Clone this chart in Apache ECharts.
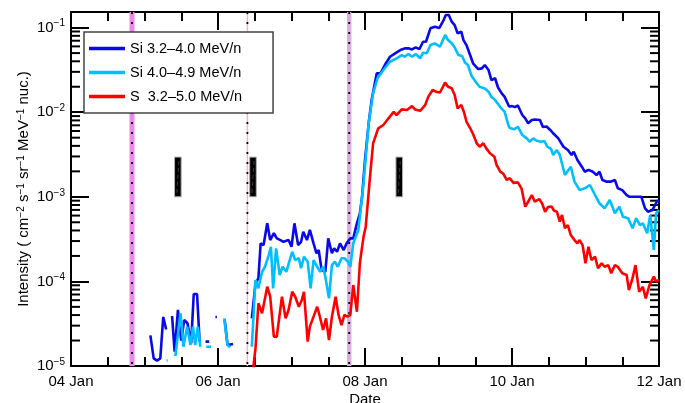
<!DOCTYPE html>
<html><head><meta charset="utf-8">
<script src="https://cdn.jsdelivr.net/npm/echarts@6/dist/echarts.min.js"></script>
<style>html,body{margin:0;padding:0;background:#fff}#c{width:685px;height:403px}</style>
</head><body><div id="c"></div>
<script>
// ---- data (time = day of January 2014) ----
const seriesNames = ['Si 3.2\u20134.0 MeV/n', 'Si 4.0\u20134.9 MeV/n', 'S  3.2\u20135.0 MeV/n'];
const xTickLabels = {4: '04 Jan', 6: '06 Jan', 8: '08 Jan', 10: '10 Jan', 12: '12 Jan'};

const siLowTime = [5.08,5.125,5.17,5.215,5.255,5.295,5.33,5.375,5.41,5.455,5.50,5.54,5.585,5.635,5.67,5.715,5.75,5.79,5.83,5.88,5.93,5.965,5.985,6.04,6.09,6.13,6.205,6.3,
6.46,6.51,6.55,6.58,6.62,6.67,6.71,6.76,6.80,6.85,6.89,6.96,7.00,7.04,7.09,7.13,7.16,7.21,7.25,7.30,7.34,7.37,7.41,7.46,7.50,7.55,7.58,7.62,7.66,7.71,7.75,7.80,7.84,7.89,7.93,7.96,8.00,8.05,8.09,8.16,8.21,8.27,8.34,8.41,8.48,8.55,8.59,8.64,8.69,8.74,8.79,8.83,8.89,8.95,9.01,9.07,9.10,9.14,9.18,9.22,9.26,9.31,9.34,9.38,9.43,9.47,9.54,9.59,9.63,9.68,9.72,9.77,9.81,9.86,9.90,9.96,10.00,10.04,10.08,10.14,10.18,10.22,10.27,10.31,10.38,10.42,10.47,10.52,10.56,10.63,10.70,10.76,10.81,10.84,10.89,10.95,10.99,11.04,11.10,11.15,11.19,11.23,11.29,11.34,11.40,11.44,11.50,11.56,11.60,11.65,11.69,11.76,11.81,11.85,11.91,11.97,12.0];
const siLowFlux = [2.3e-5,1.23e-5,1.16e-5,1.23e-5,3.8e-5,2.7e-5,null,3.9e-5,1.48e-5,4.6e-5,2.0e-5,3.5e-5,3.2e-5,1.85e-5,7.1e-5,7.1e-5,1.94e-5,null,1.94e-5,1.94e-5,null,3.8e-5,3.8e-5,null,3.56e-5,1.77e-5,1.82e-5,null,
3.66e-5,9.5e-5,1.09e-4,2.82e-4,2.69e-4,4.86e-4,3.08e-4,3.71e-4,3.23e-4,3.08e-4,2.94e-4,3.08e-4,2.57e-4,4.86e-4,2.69e-4,2.94e-4,3.86e-4,3.08e-4,4.06e-4,2.82e-4,2.15e-4,2.35e-4,1.36e-4,1.30e-4,3.23e-4,2.15e-4,2.46e-4,2.24e-4,2.82e-4,2.35e-4,2.82e-4,3.23e-4,3.23e-4,4.86e-4,6.38e-4,1.0e-3,2.72e-3,7.4e-3,1.39e-2,2.88e-2,2.88e-2,3.61e-2,4.53e-2,4.97e-2,5.43e-2,5.69e-2,5.69e-2,5.53e-2,5.85e-2,5.58e-2,6.81e-2,6.81e-2,9.82e-2,0.1026,9.89e-2,0.123,0.141,0.141,0.1175,0.107,8.57e-2,8.95e-2,7.13e-2,6.22e-2,4.74e-2,3.79e-2,3.24e-2,3.30e-2,3.61e-2,3.16e-2,2.40e-2,2.52e-2,1.96e-2,1.67e-2,1.52e-2,1.17e-2,1.18e-2,1.15e-2,1.20e-2,9.27e-3,8.47e-3,7.40e-3,8.09e-3,8.2e-3,8.09e-3,6.68e-3,6.78e-3,6.17e-3,5.64e-3,4.91e-3,3.91e-3,3.57e-3,3.12e-3,3.41e-3,2.72e-3,2.27e-3,1.98e-3,2.08e-3,1.98e-3,1.81e-3,1.98e-3,1.58e-3,1.51e-3,1.51e-3,1.58e-3,1.26e-3,1.20e-3,1.05e-3,1.0e-3,1.0e-3,1.0e-3,1.0e-3,7.31e-4,6.67e-4,6.98e-4,8.75e-4,9.16e-4];

const siHighTime = [5.30,5.315,5.36,5.42,5.49,5.53,5.58,5.625,5.66,5.69,5.725,5.76,5.80,5.84,5.905,5.95,6.085,6.13,6.165,6.3,
6.46,6.51,6.55,6.60,6.64,6.69,6.72,6.75,6.79,6.84,6.88,6.93,6.97,7.01,7.05,7.10,7.13,7.17,7.22,7.26,7.30,7.35,7.39,7.43,7.46,7.51,7.55,7.59,7.63,7.68,7.72,7.77,7.80,7.84,7.91,7.98,8.05,8.11,8.17,8.25,8.34,8.43,8.50,8.54,8.59,8.64,8.69,8.75,8.79,8.84,8.89,8.95,9.02,9.09,9.13,9.18,9.22,9.27,9.32,9.36,9.40,9.45,9.52,9.56,9.63,9.68,9.72,9.77,9.81,9.84,9.90,9.95,9.97,10.03,10.08,10.14,10.20,10.24,10.29,10.33,10.39,10.44,10.48,10.53,10.56,10.61,10.65,10.72,10.80,10.85,10.92,10.99,11.06,11.13,11.19,11.26,11.33,11.40,11.46,11.51,11.58,11.64,11.69,11.74,11.78,11.84,11.88,11.93,11.96,12.0];
const siHighFlux = [1.16e-5,1.16e-5,null,1.31e-5,4.2e-5,1.69e-5,2.92e-5,1.77e-5,2.92e-5,1.77e-5,2.92e-5,1.69e-5,null,1.69e-5,1.69e-5,null,3.66e-5,1.77e-5,1.66e-5,null,
1.69e-5,1.04e-4,8.28e-5,1.30e-4,1.49e-4,2.05e-4,2.57e-4,8.28e-5,2.46e-4,1.19e-4,1.49e-4,1.30e-4,1.71e-4,2.24e-4,1.79e-4,1.88e-4,1.43e-4,1.96e-4,1.71e-4,8.28e-5,1.79e-4,1.49e-4,1.30e-4,1.49e-4,1.14e-4,6.31e-5,1.56e-4,1.71e-4,1.49e-4,1.88e-4,1.88e-4,1.71e-4,1.49e-4,2.82e-4,4.06e-4,1.44e-3,7.40e-3,1.67e-2,2.52e-2,3.16e-2,3.95e-2,4.34e-2,4.74e-2,4.53e-2,4.88e-2,4.53e-2,4.88e-2,4.34e-2,5.05e-2,4.97e-2,6.22e-2,6.52e-2,5.94e-2,8.18e-2,7.13e-2,6.52e-2,5.82e-2,4.74e-2,4.61e-2,3.87e-2,3.61e-2,2.68e-2,2.20e-2,2.00e-2,1.91e-2,1.75e-2,1.52e-2,1.39e-2,1.25e-2,1.15e-2,1.01e-2,7.06e-3,6.50e-3,6.28e-3,6.74e-3,5.37e-3,4.91e-3,4.48e-3,4.91e-3,4.63e-3,4.48e-3,4.57e-3,3.91e-3,3.7e-3,3.12e-3,3.57e-3,3.12e-3,1.81e-3,2.27e-3,1.51e-3,1.20e-3,1.26e-3,1.38e-3,1.05e-3,8.38e-4,7.31e-4,9.16e-4,6.38e-4,7.64e-4,5.82e-4,5.57e-4,4.25e-4,5.57e-4,4.64e-4,4.86e-4,3.71e-4,6.10e-4,2.35e-4,6.38e-4,6.98e-4];

const sulfurTime = [6.48,6.51,6.55,6.60,6.67,6.71,6.76,6.80,6.87,6.92,6.96,7.01,7.05,7.10,7.14,7.17,7.22,7.25,7.30,7.35,7.38,7.43,7.47,7.51,7.55,7.60,7.64,7.68,7.72,7.76,7.80,7.84,7.89,7.93,7.98,8.01,8.06,8.11,8.18,8.25,8.32,8.39,8.43,8.50,8.57,8.64,8.68,8.75,8.82,8.86,8.92,8.98,9.02,9.09,9.13,9.18,9.22,9.26,9.31,9.35,9.38,9.43,9.47,9.52,9.56,9.61,9.65,9.70,9.76,9.79,9.84,9.88,9.93,9.97,10.02,10.08,10.13,10.18,10.22,10.27,10.31,10.37,10.41,10.45,10.49,10.54,10.57,10.61,10.65,10.68,10.72,10.76,10.80,10.85,10.89,10.92,10.96,11.00,11.04,11.08,11.13,11.17,11.22,11.26,11.31,11.35,11.40,11.44,11.50,11.56,11.59,11.64,11.68,11.73,11.78,11.82,11.87,11.93,11.96,12.0];
const sulfurFlux = [9.5e-6,1.62e-5,5.51e-5,4.20e-5,8.65e-5,6.59e-5,2.22e-5,2.22e-5,6.59e-5,3.66e-5,4.59e-5,7.55e-5,6.59e-5,5.02e-5,6.03e-5,7.55e-5,1.94e-5,2.92e-5,3.83e-5,5.02e-5,4.01e-5,2.66e-5,3.66e-5,2.03e-5,3.83e-5,6.59e-5,4.01e-5,3.05e-5,4.01e-5,3.83e-5,4.01e-5,9.06e-5,4.38e-5,1.64e-4,3.38e-4,4.43e-4,1.44e-3,4.29e-3,6.45e-3,7.06e-3,8.47e-3,1.01e-2,9.27e-3,1.08e-2,1.06e-2,1.18e-2,1.08e-2,1.04e-2,1.22e-2,1.52e-2,1.83e-2,1.73e-2,1.71e-2,2.24e-2,2.00e-2,1.92e-2,1.60e-2,1.11e-2,1.22e-2,9.79e-3,7.76e-3,6.50e-3,5.52e-3,4.29e-3,3.91e-3,4.29e-3,3.74e-3,3.27e-3,2.98e-3,2.38e-3,1.98e-3,1.88e-3,1.58e-3,1.66e-3,1.46e-3,1.48e-3,1.25e-3,7.64e-4,8.75e-4,1.05e-3,8.75e-4,9.42e-4,8.33e-4,6.67e-4,7.57e-4,7.68e-4,6.89e-4,6.67e-4,5.08e-4,6.10e-4,4.25e-4,4.64e-4,3.53e-4,3.08e-4,2.82e-4,3.08e-4,2.69e-4,1.64e-4,2.57e-4,1.79e-4,1.96e-4,1.43e-4,1.64e-4,1.49e-4,1.56e-4,1.25e-4,1.56e-4,1.49e-4,1.25e-4,1.19e-4,7.91e-5,1.09e-4,1.56e-4,7.55e-5,8.65e-5,6.31e-5,9.06e-5,1.14e-4,9.92e-5,1.04e-4];

// event times (vertical lines) and black marker bars
const eventDays = [4.83, 6.40, 7.785];
const markerDays = [5.454, 6.476, 8.466];
const markerLow = [1.0e-3, 1.0e-3, 1.0e-3];
const markerHigh = [2.95e-3, 2.95e-3, 2.95e-3];
const yMin = 1e-5, yMax = 0.153;

// ---- styling ----
const FONT = 'Liberation Sans, Arial, Helvetica, sans-serif';
const colors = ['#0a0ae8', '#00bfff', '#ff0000'];
const eventBand = [{w: 5, c: '#ee86ee'}, {w: 1.5, c: '#f6b4c8'}, {w: 4.5, c: '#dcaee2'}];

const yMinorTicks = [];
for (let e = -5; e <= -1; e++) for (let m = 2; m <= 9; m++) { const v = m * Math.pow(10, e); if (v < yMax) yMinorTicks.push(v); }

const pairs = (t, v) => t.map((d, i) => [d, v[i] === null ? '-' : v[i]]);

const supLabel = v => {
  const e = Math.log10(v), r = Math.round(e);
  if (Math.abs(e - r) > 1e-6) return '';
  return '{b|10}{s|' + (r < 0 ? '\u2212' : '') + Math.abs(r) + '}';
};
const richSup = {
  b: {fontSize: 15, fontFamily: FONT, color: '#000', lineHeight: 18},
  s: {fontSize: 10, fontFamily: FONT, color: '#000', verticalAlign: 'top', lineHeight: 10}
};

const baseX = {
  type: 'value', min: 4, max: 12, interval: 2,
  axisLine: {lineStyle: {color: '#000', width: 2}},
  axisTick: {inside: true, length: 18, lineStyle: {color: '#000', width: 2}},
  minorTick: {show: true, splitNumber: 4, length: 9, lineStyle: {color: '#000', width: 2}},
  splitLine: {show: false}, minorSplitLine: {show: false}
};
const baseY = {
  type: 'log', logBase: 10, min: yMin, max: yMax,
  axisLine: {lineStyle: {color: '#000', width: 2}},
  axisTick: {inside: true, length: 18, lineStyle: {color: '#000', width: 2}},
  splitLine: {show: false}
};

const lineSeries = (name, t, v, color) => ({
  name, type: 'line', data: pairs(t, v), symbol: 'none', connectNulls: false,
  lineStyle: {color, width: 2.6}, itemStyle: {color}, z: 5, clip: true
});

const chart = echarts.init(document.getElementById('c'), null, {renderer: 'canvas'});
chart.setOption({
  animation: false,
  backgroundColor: '#fff',
  textStyle: {fontFamily: FONT},
  grid: {left: 71, right: 26, top: 12, bottom: 37, containLabel: false, outerBoundsMode: 'none'},
  legend: {
    data: seriesNames.map((n, i) => ({name: n, icon: 'rect', itemStyle: {color: colors[i]}})),
    orient: 'vertical', left: 84, top: 32,
    padding: [9, 31, 9, 5], itemGap: 9, itemWidth: 36, itemHeight: 3.5,
    backgroundColor: '#fff', borderColor: '#444', borderWidth: 1.5,
    textStyle: {fontSize: 14.5, color: '#000', fontFamily: FONT, lineHeight: 14}, z: 20
  },
  xAxis: [
    Object.assign({}, baseX, {
      position: 'bottom', name: 'Date', nameLocation: 'middle', nameGap: 26, nameMoveOverlap: false,
      nameTextStyle: {fontSize: 15, color: '#000', fontFamily: FONT},
      axisLabel: {fontSize: 15, color: '#000', margin: 8, fontFamily: FONT, formatter: v => xTickLabels[v] || ''}
    }),
    Object.assign({}, baseX, {position: 'top', axisLabel: {show: false}})
  ],
  yAxis: [
    Object.assign({}, baseY, {
      position: 'left',
      name: 'Intensity ( cm{s|\u22122} s{s|\u22121} sr{s|\u22121} MeV{s|\u22121} nuc.)',
      nameLocation: 'middle', nameGap: 40, nameRotate: 90, nameMoveOverlap: false,
      nameTextStyle: {fontSize: 15, color: '#000', fontFamily: FONT, rich: {s: {fontSize: 10, fontFamily: FONT, color: '#000', verticalAlign: 'top'}}},
      axisLabel: {margin: 6, formatter: supLabel, rich: richSup}
    }),
    Object.assign({}, baseY, {position: 'right', axisLabel: {show: false}})
  ],
  series: [
    {
      type: 'custom', name: 'events', silent: true, z: 1,
      data: eventDays.map(d => [d, yMin]),
      renderItem: (params, api) => {
        const i = params.dataIndex, cs = params.coordSys;
        const x = api.coord([api.value(0), yMin])[0];
        const b = eventBand[i];
        return {type: 'group', children: [
          {type: 'rect', shape: {x: x - b.w / 2, y: cs.y, width: b.w, height: cs.height}, style: {fill: b.c}},
          {type: 'line', shape: {x1: x, y1: cs.y, x2: x, y2: cs.y + cs.height}, style: {stroke: '#000', lineWidth: 1.8, lineDash: [2, 8]}}
        ]};
      }
    },
    {
      type: 'custom', name: 'markers', silent: true, z: 2,
      data: markerDays.map((d, i) => [d, markerLow[i], markerHigh[i]]),
      renderItem: (params, api) => {
        const lo = api.coord([api.value(0), api.value(1)]);
        const hi = api.coord([api.value(0), api.value(2)]);
        return {type: 'group', children: [
          {type: 'rect', shape: {x: lo[0] - 3.3, y: hi[1], width: 6.6, height: lo[1] - hi[1]}, style: {fill: '#000', stroke: '#b0b0b0', lineWidth: 1}},
          {type: 'line', shape: {x1: lo[0] - 1, y1: lo[1] - 4, x2: lo[0] + 1, y2: hi[1] + 4}, style: {stroke: '#666', lineWidth: 0.6, lineDash: [4, 3]}}
        ]};
      }
    },
    {
      type: 'custom', name: 'yminor', silent: true, z: 3,
      data: yMinorTicks.map(v => [4, v]),
      renderItem: (params, api) => {
        const cs = params.coordSys;
        const y = api.coord([4, api.value(1)])[1];
        const st = {stroke: '#000', lineWidth: 2};
        return {type: 'group', children: [
          {type: 'line', shape: {x1: cs.x, y1: y, x2: cs.x + 9, y2: y}, style: st},
          {type: 'line', shape: {x1: cs.x + cs.width - 9, y1: y, x2: cs.x + cs.width, y2: y}, style: st}
        ]};
      }
    },
    lineSeries(seriesNames[0], siLowTime, siLowFlux, colors[0]),
    lineSeries(seriesNames[1], siHighTime, siHighFlux, colors[1]),
    lineSeries(seriesNames[2], sulfurTime, sulfurFlux, colors[2])
  ]
});
</script>
</body></html>
